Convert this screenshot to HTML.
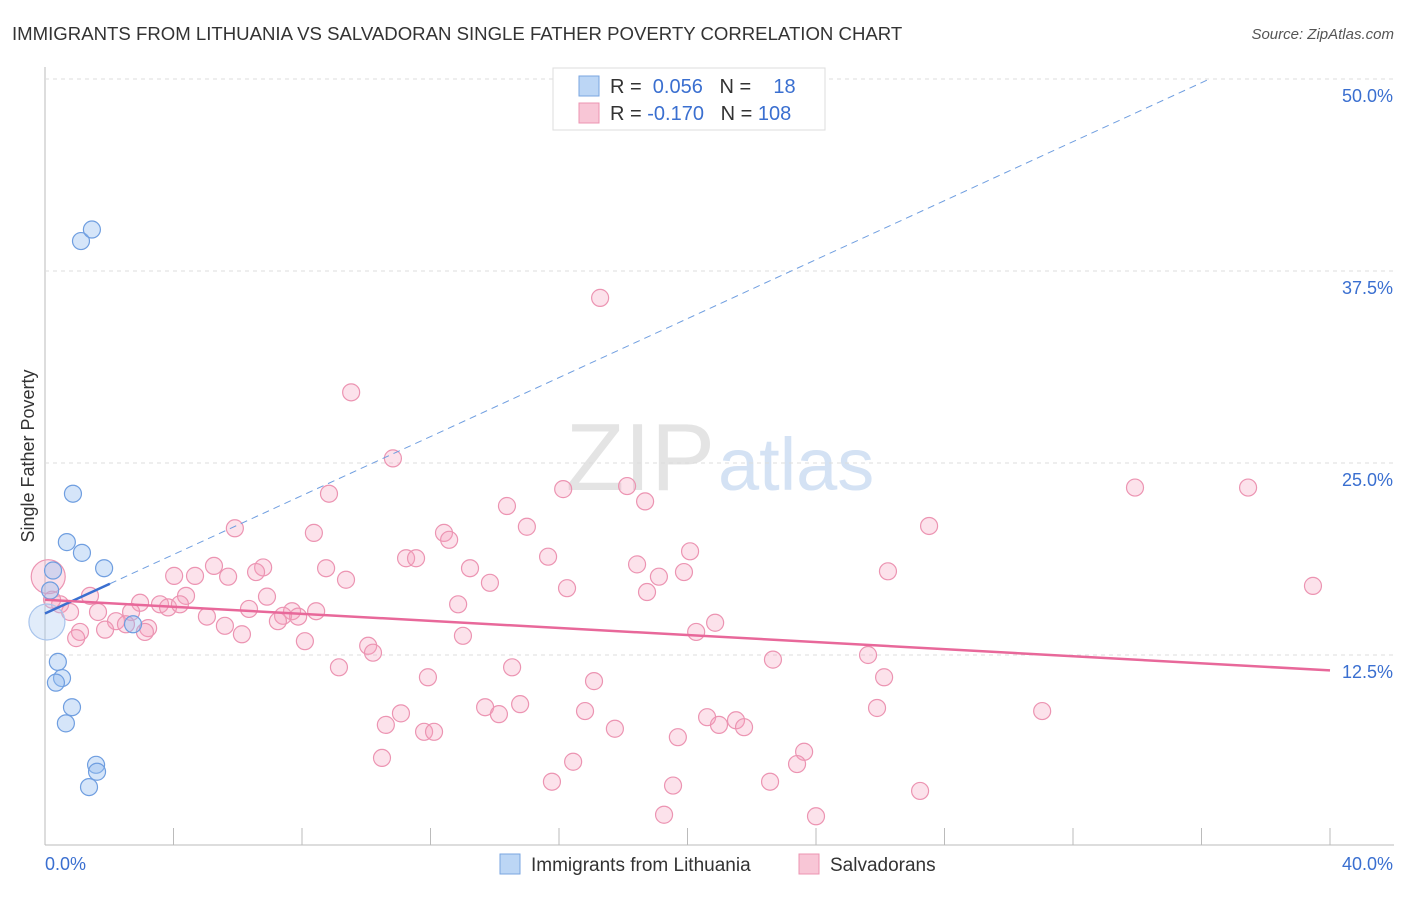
<!DOCTYPE html>
<html><head><meta charset="utf-8"><style>
body{margin:0;background:#fff;font-family:"Liberation Sans",sans-serif}
svg text{font-family:"Liberation Sans",sans-serif}
</style></head><body>
<svg id="c" width="1406" height="892">
<text x="12" y="40" font-size="18.6" fill="#333">IMMIGRANTS FROM LITHUANIA VS SALVADORAN SINGLE FATHER POVERTY CORRELATION CHART</text>
<text x="1394" y="39" font-size="15" fill="#555" font-style="italic" text-anchor="end">Source: ZipAtlas.com</text>
<text x="715" y="490" font-size="96" fill="#e4e4e4" text-anchor="end" font-family="Liberation Serif">ZIP</text>
<text x="718" y="490" font-size="74" fill="#d4e2f4">atlas</text>
<text transform="translate(34,456) rotate(-90)" font-size="18" fill="#333" text-anchor="middle">Single Father Poverty</text>
<g id="grid"></g><g id="pts"></g><g id="lines"></g>
<g>
<rect x="553" y="68" width="272" height="62" fill="#fff" stroke="#ddd"/>
<rect x="579" y="76" width="20" height="20" fill="#bcd6f5" stroke="#7aa6e0"/>
<rect x="579" y="103" width="20" height="20" fill="#f8c6d6" stroke="#ec94b2"/>
<text x="610" y="93" font-size="20" fill="#333">R = <tspan fill="#3a6fd0">&#160;0.056</tspan>&#160;&#160;&#160;N = <tspan fill="#3a6fd0">&#160;&#160;&#160;18</tspan></text>
<text x="610" y="120" font-size="20" fill="#333">R = <tspan fill="#3a6fd0">-0.170</tspan>&#160;&#160;&#160;N = <tspan fill="#3a6fd0">108</tspan></text>
</g>
<g>
<rect x="500" y="854" width="20" height="20" fill="#bcd6f5" stroke="#7aa6e0"/>
<text x="531" y="871" font-size="19" fill="#333">Immigrants from Lithuania</text>
<rect x="799" y="854" width="20" height="20" fill="#f8c6d6" stroke="#ec94b2"/>
<text x="830" y="871" font-size="19" fill="#333">Salvadorans</text>
</g>
</svg>
<script>
const yTicks=[12.5,25,37.5,50];
const yTickLabels=["12.5%","25.0%","37.5%","50.0%"];
const xTickLabels=["0.0%","40.0%"];
const blueX=[1.12,1.46,0.87,0.68,1.15,1.84,0.25,0.16,0.06,2.74,0.40,0.53,0.34,0.84,0.65,1.59,1.62,1.37];
const blueY=[39.45,40.2,23.0,19.85,19.15,18.15,18.0,16.7,14.65,14.5,12.05,11.0,10.7,9.1,8.05,5.35,4.9,3.9];
const pinkX=[17.28,9.53,10.83,8.84,16.13,18.12,14.38,18.68,33.93,37.45,5.91,8.37,12.42,15.0,27.52,12.58,20.08,15.66,11.24,11.55,5.26,6.79,18.43,8.75,13.23,19.89,26.24,4.02,4.67,5.7,6.57,9.37,13.85,19.11,16.25,18.74,39.47,0.1,1.4,4.39,6.91,2.96,3.58,3.83,4.2,12.86,0.47,0.78,1.65,2.68,6.35,7.69,8.44,5.04,7.41,7.88,2.21,3.21,5.6,7.25,20.86,1.09,1.87,2.52,3.11,6.13,0.97,8.09,13.01,20.27,10.06,10.21,22.66,25.62,9.15,14.54,11.92,17.09,26.12,13.7,14.79,14.13,16.81,11.08,25.9,31.04,10.61,20.61,20.98,21.51,21.76,17.74,11.8,12.11,19.7,23.63,10.49,16.44,23.41,15.78,19.55,22.57,27.24,19.27,24.0,0.22];
const pinkY=[35.75,29.6,25.3,23.0,23.3,23.5,22.2,22.5,23.4,23.4,20.75,20.45,20.45,20.85,20.9,20.0,19.25,18.9,18.8,18.8,18.3,18.2,18.4,18.15,18.15,17.9,17.95,17.65,17.65,17.6,17.9,17.4,17.2,17.6,16.85,16.6,17.0,17.6,16.35,16.35,16.3,15.9,15.8,15.6,15.8,15.8,15.8,15.3,15.3,15.3,15.5,15.35,15.35,15.0,15.05,15.0,14.7,14.25,14.4,14.7,14.6,14.0,14.15,14.5,14.0,13.85,13.6,13.4,13.75,14.0,13.1,12.65,12.2,12.5,11.7,11.7,11.05,10.8,11.05,9.1,9.3,8.65,8.85,8.7,9.05,8.85,7.95,8.45,7.95,8.25,7.8,7.7,7.5,7.5,7.15,6.2,5.8,5.55,5.4,4.25,4.0,4.25,3.65,2.1,2.0,16.1];
const blueTrend=[15.2,0.96];
const pinkTrend=[16.1,11.5];
const sx=v=>45+v/40*1285, sy=v=>847-v/12.5*192;
const NS="http://www.w3.org/2000/svg";
function mk(p,t,a){const e=document.createElementNS(NS,t);for(const k in a)e.setAttribute(k,a[k]);p.appendChild(e);return e;}
const g=document.getElementById('grid');
let ax=mk(g,'line',{x1:45,y1:67,x2:45,y2:845,stroke:'#bbb'});


let bx=mk(g,'line',{x1:45,y1:845,x2:1394,y2:845,stroke:'#bbb'});


for(let i=1;i<=10;i++){let t=mk(g,'line',{x1:sx(i*4),y1:828,x2:sx(i*4),y2:845,stroke:'#bbb'});

}
yTicks.forEach((v,i)=>{let l=mk(g,'line',{x1:45,y1:sy(v),x2:1394,y2:sy(v),stroke:'#ddd','stroke-dasharray':'4,4'});


let t=mk(g,'text',{x:1393,y:sy(v)+23,'font-size':18,fill:'#3a6fd0','text-anchor':'end'});t.textContent=yTickLabels[i];

});
let x0=mk(g,'text',{x:45,y:870,'font-size':18,fill:'#3a6fd0'});x0.textContent=xTickLabels[0];


let x1=mk(g,'text',{x:1393,y:870,'font-size':18,fill:'#3a6fd0','text-anchor':'end'});x1.textContent=xTickLabels[1];


const P=document.getElementById('pts');
pinkX.forEach((x,i)=>{let c=mk(P,'circle',{cx:sx(x),cy:sy(pinkY[i]),r:(i==37?17:8.5),fill:'rgba(244,160,190,0.3)',stroke:'#ec94b2','stroke-width':1.2});

});
blueX.forEach((x,i)=>{let c=mk(P,'circle',{cx:sx(x),cy:sy(blueY[i]),r:(i==8?18:8.5),fill:(i==8?'rgba(170,200,240,0.35)':'rgba(150,190,240,0.4)'),stroke:(i==8?'#a8c4ec':'#6f9ee0'),'stroke-width':1.2});

});
const L=document.getElementById('lines');
const bxEnd=(50-blueTrend[0])/blueTrend[1];
let d=mk(L,'line',{x1:sx(2.02),y1:sy(blueTrend[0]+2.02*blueTrend[1]),x2:sx(bxEnd),y2:sy(50),stroke:'#6f9ee0','stroke-dasharray':'7,5','stroke-width':1});


let b=mk(L,'line',{x1:sx(0),y1:sy(blueTrend[0]),x2:sx(2.02),y2:sy(blueTrend[0]+2.02*blueTrend[1]),stroke:'#3a6fd0','stroke-width':2.5});


let p=mk(L,'line',{x1:sx(0),y1:sy(pinkTrend[0]),x2:sx(40),y2:sy(pinkTrend[1]),stroke:'#e8689a','stroke-width':2.5});


</script>
</body></html>
